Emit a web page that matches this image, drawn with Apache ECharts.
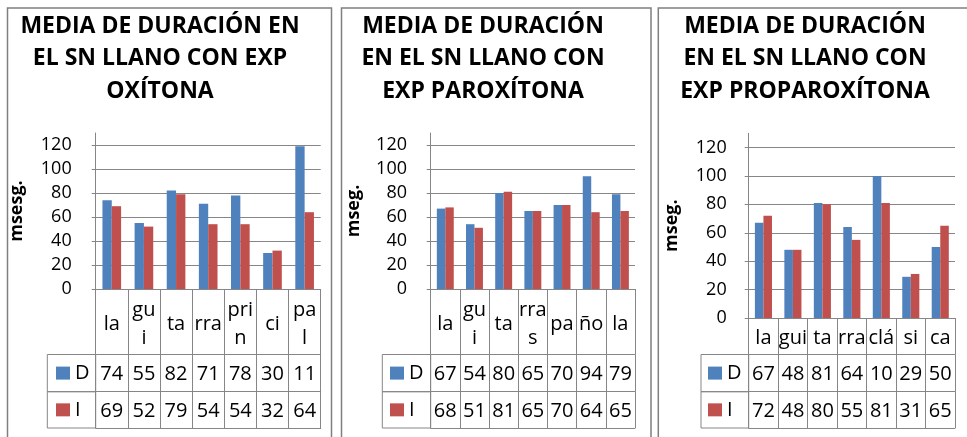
<!DOCTYPE html>
<html>
<head>
<meta charset="utf-8">
<script src="https://cdn.jsdelivr.net/npm/echarts@6/dist/echarts.min.js"></script>
<style>
  html, body { margin: 0; padding: 0; background: #fff; }
  #chart { width: 967px; height: 437px; }
</style>
</head>
<body>
<div id="chart"></div>
<script>
// syllables and mean durations (ms), D / I
const oxiCats = ["la", "gui", "ta", "rra", "prin", "ci", "pal"];
const oxiD = [74, 55, 82, 71, 78, 30, 119];
const oxiI = [69, 52, 79, 54, 54, 32, 64];

const paroCats = ["la", "gui", "ta", "rras", "pa", "ño", "la"];
const paroD = [67, 54, 80, 65, 70, 94, 79];
const paroI = [68, 51, 81, 65, 70, 64, 65];

const propCats = ["la", "gui", "ta", "rra", "clá", "si", "ca"];
const propD = [67, 48, 81, 64, 100, 29, 50];
const propI = [72, 48, 80, 55, 81, 31, 65];

const seriesNames = ["D", "I"];
const titles = [
  "MEDIA DE DURACIÓN EN\nEL SN LLANO CON EXP\nOXÍTONA",
  "MEDIA DE DURACIÓN\nEN EL SN LLANO CON\nEXP PAROXÍTONA",
  "MEDIA DE DURACIÓN\nEN EL SN LLANO CON\nEXP PROPAROXÍTONA"
];
const yNames = ["msesg.", "mseg.", "mseg."];

const FONT = "Open Sans";
const GRAY = "#868686";
const BLUE = "#4F81BD";
const RED = "#C0504D";

// layout of each panel (px)
const panels = [
  {cats: oxiCats, d: oxiD, i: oxiI, frameL: 7.5, frameR: 331.5, titleX: 160,
   left: 95.7, width: 225, top: 133, bottom: 289, colL: 47.3, rows: [65.5, 37.2, 36.3],
   nameGap: 70, labMargin: 24, wrap: 27.8, legendL: 56},
  {cats: paroCats, d: paroD, i: paroI, frameL: 341.5, frameR: 651, titleX: 483,
   left: 430.7, width: 204.3, top: 133, bottom: 289, colL: 382.3, rows: [65.5, 37.2, 36.3],
   nameGap: 67.7, labMargin: 23.7, wrap: 27.8, legendL: 390},
  {cats: propCats, d: propD, i: propI, frameL: 658.3, frameR: 990, titleX: 805,
   left: 748.7, width: 206.3, top: 133.3, bottom: 318, colL: 701, rows: [36.5, 37.2, 36.3],
   nameGap: 67.7, labMargin: 22, wrap: null, legendL: 708}
];

// excel-like cell: only two characters fit
function cell(v){ return String(v).slice(0, 2); }

// wrap a syllable letter by letter when it does not fit the cell
const ctx = document.createElement("canvas").getContext("2d");
ctx.font = `20px "${FONT}"`;
function wrapCell(text, maxW){
  if(!maxW) return text;
  const lines = [];
  let cur = "";
  for(const ch of text){
    if(cur && ctx.measureText(cur + ch).width > maxW){ lines.push(cur); cur = ch; }
    else cur += ch;
  }
  lines.push(cur);
  return lines.join("\n");
}

const title = [], grid = [], xAxis = [], yAxis = [], series = [], legend = [], graphic = [];

panels.forEach((p, k) => {
  const r = p.rows;
  title.push({
    text: titles[k], left: p.titleX, top: 10, textAlign: "center", padding: 0,
    textStyle: {fontFamily: FONT, fontWeight: "bold", fontSize: 23, lineHeight: 32.5, color: "#000"}
  });
  grid.push({left: p.left, top: p.top, width: p.width, height: p.bottom - p.top});

  const base = {
    type: "category", gridIndex: k, data: p.cats, position: "bottom",
    axisLine: {show: true, lineStyle: {color: GRAY, width: 1}},
    splitLine: {show: false}
  };
  xAxis.push(Object.assign({}, base, {
    offset: 0,
    axisTick: {show: true, length: r[0], interval: 0, alignWithLabel: false, lineStyle: {color: GRAY, width: 1}},
    axisLabel: {
      interval: 0, margin: r[0] / 2 + 2.5, verticalAlign: "middle",
      fontFamily: FONT, fontSize: 20, lineHeight: 28, color: "#000",
      formatter: v => wrapCell(v, p.wrap)
    }
  }));
  [p.d, p.i].forEach((vals, j) => {
    xAxis.push(Object.assign({}, base, {
      offset: r[0] + (j ? r[1] : 0),
      axisTick: {show: true, length: r[1 + j], interval: 0, alignWithLabel: false, lineStyle: {color: GRAY, width: 1}},
      axisLabel: {
        interval: 0, margin: r[1 + j] / 2 + 1.5, verticalAlign: "middle",
        fontFamily: FONT, fontSize: 20, color: "#000",
        formatter: (v, idx) => cell(vals[idx])
      }
    }));
  });
  xAxis.push(Object.assign({}, base, {
    offset: r[0] + r[1] + r[2],
    axisTick: {show: false}, axisLabel: {show: false}
  }));

  yAxis.push({
    type: "value", gridIndex: k, min: 0, max: 130, interval: 20,
    name: yNames[k], nameLocation: "middle", nameRotate: 90, nameGap: p.nameGap,
    nameTextStyle: {fontFamily: FONT, fontWeight: "bold", fontSize: 18, color: "#000"},
    axisLine: {show: true, lineStyle: {color: GRAY}},
    axisTick: {show: true, length: 4, lineStyle: {color: GRAY}},
    splitLine: {show: true, showMaxLine: false, lineStyle: {color: GRAY, width: 1}},
    axisLabel: {margin: p.labMargin, fontFamily: FONT, fontSize: 18, color: "#000", showMaxLabel: false}
  });

  [p.d, p.i].forEach((vals, j) => {
    series.push({
      type: "bar", name: seriesNames[j], xAxisIndex: k * 4, yAxisIndex: k,
      data: vals, barGap: "0%", barCategoryGap: "42%",
      itemStyle: {color: j ? RED : BLUE}, silent: true
    });
  });

  const rowCenter = p.bottom + r[0] + r[1] / 2;
  legend.push({
    data: seriesNames, orient: "vertical", left: p.legendL, top: rowCenter - 11,
    itemWidth: 14, itemHeight: 13, itemGap: (r[1] + r[2]) / 2 - 22, padding: 0,
    icon: "rect", selectedMode: false,
    textStyle: {fontFamily: FONT, fontSize: 20, lineHeight: 22, color: "#000"}
  });

  // panel frame and the legend column of the data table
  graphic.push({
    type: "rect", silent: true,
    shape: {x: p.frameL, y: 8, width: p.frameR - p.frameL, height: 460},
    style: {fill: "none", stroke: "#7f7f7f", lineWidth: 1.5}
  });
  const y1 = p.bottom + r[0];
  [r[1], r[2]].forEach((h, j) => {
    graphic.push({
      type: "rect", silent: true,
      shape: {x: p.colL, y: y1 + (j ? r[1] : 0), width: p.left - p.colL, height: h},
      style: {fill: "none", stroke: GRAY, lineWidth: 1}
    });
  });
});

const chart = echarts.init(document.getElementById("chart"), null, {renderer: "canvas"});
chart.setOption({
  animation: false,
  backgroundColor: "#fff",
  title, grid, xAxis, yAxis, series, legend, graphic
});
window.addEventListener("resize", () => chart.resize());
</script>
</body>
</html>
